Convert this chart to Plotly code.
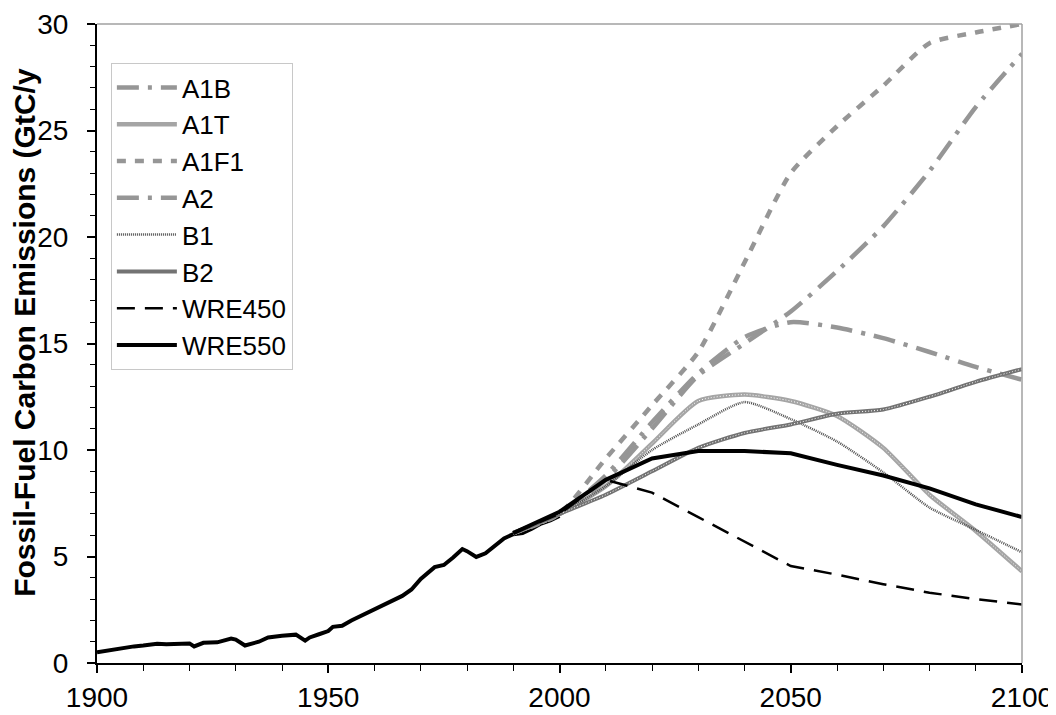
import plotly.graph_objects as go

# Historical emissions
hist_years = [1900,1902,1905,1908,1910,1913,1915,1918,1920,1921,1923,1926,1929,1930,1932,1935,1937,1940,1943,1945,1946,1948,1950,1951,1953,1955,1957,1960,1963,1966,1968,1970,1973,1975,1977,1979,1980,1982,1984,1986,1988,1990,1992,1994,1996,1998,2000]
hist_vals = [0.5,0.58,0.68,0.78,0.82,0.9,0.88,0.9,0.92,0.78,0.95,0.97,1.15,1.1,0.82,1.0,1.2,1.28,1.33,1.05,1.2,1.35,1.5,1.7,1.75,2.0,2.2,2.55,2.8,3.15,3.45,3.95,4.5,4.6,4.95,5.35,5.25,4.98,5.15,5.5,5.85,6.05,6.1,6.3,6.55,6.7,6.9]

# Scenario years and values
years = [1990,2000,2010,2020,2030,2040,2050,2060,2070,2080,2090,2100]
A1B = [6.1,7.0,8.8,11.3,13.6,15.3,16.0,15.75,15.25,14.6,13.9,13.3]
A1T = [6.1,7.0,8.3,10.3,12.3,12.6,12.3,11.6,10.1,7.9,6.2,4.3]
A1F1 = [6.1,7.0,9.6,12.1,14.6,18.8,23.0,25.2,27.1,29.1,29.6,30.0]
A2 = [6.1,7.0,8.6,11.0,13.5,15.0,16.5,18.4,20.5,23.1,26.1,28.6]
B1 = [6.1,7.0,8.3,10.0,11.2,12.25,11.45,10.4,8.95,7.3,6.25,5.2]
B2 = [6.1,7.0,7.9,9.0,10.1,10.8,11.2,11.7,11.9,12.5,13.2,13.8]
WRE450 = [6.1,7.0,8.6,8.0,6.85,5.7,4.55,4.15,3.7,3.3,3.0,2.75]
WRE550 = [6.1,7.1,8.6,9.6,9.95,9.95,9.85,9.3,8.8,8.2,7.45,6.85]

x_ticks = [1900,1950,2000,2050,2100]
y_ticks = [0,5,10,15,20,25,30]
y_title = "Fossil-Fuel Carbon Emissions (GtC/y"

GRAY = "rgb(150,150,150)"
FONT = "Liberation Sans, Arial, sans-serif"

fig = go.Figure()

fig.add_trace(go.Scatter(x=hist_years, y=hist_vals, mode="lines",
                         line=dict(color="black", width=4), showlegend=False))

series = [
    ("A1B", A1B, dict(color=GRAY, width=4.5, dash="22px,9px,4px,9px"), "spline"),
    ("A1T", A1T, dict(color="rgb(165,165,165)", width=4.5), "spline"),
    ("A1F1", A1F1, dict(color=GRAY, width=4.5, dash="9px,9px"), "spline"),
    ("A2", A2, dict(color=GRAY, width=4.5, dash="22px,9px,4px,9px"), "spline"),
    ("B1", B1, dict(color="rgb(80,80,80)", width=2.5, dash="1px,1px"), "spline"),
    ("B2", B2, dict(color="rgb(115,115,115)", width=4), "spline"),
    ("WRE450", WRE450, dict(color="black", width=2.5, dash="18px,10px"), "linear"),
    ("WRE550", WRE550, dict(color="black", width=4), "linear"),
]

for name, vals, line, shape in series:
    if shape == "spline":
        line = dict(line, shape="spline", smoothing=0.6)
    fig.add_trace(go.Scatter(x=years, y=vals, mode="lines", name=name, line=line))
    if name in ("A1T", "B2"):
        fig.add_trace(go.Scatter(x=years, y=vals, mode="lines", showlegend=False,
                                 line=dict(color="white", width=1, dash="1px,2px",
                                           shape="spline", smoothing=0.6),
                                 hoverinfo="skip"))

# page body has an 8px default margin; figure sized/positioned to compensate
fig.update_layout(
    width=1048, height=707,
    margin=dict(l=89, r=34, t=16, b=52),
    paper_bgcolor="white", plot_bgcolor="white",
    font=dict(family=FONT, color="black", size=28),
    legend=dict(x=0.015, y=0.939, xanchor="left", yanchor="top",
                bgcolor="white", bordercolor="rgb(200,200,200)", borderwidth=1,
                font=dict(size=26), itemwidth=60),
    xaxis=dict(range=[1900, 2100], tickvals=x_ticks, ticks="outside", ticklen=8,
               tickwidth=1.5, tickcolor="black", showline=True, linecolor="black",
               linewidth=2, showgrid=False, zeroline=False, automargin=False,
               tickfont=dict(size=28),
               minor=dict(dtick=10, ticks="outside", ticklen=6, tickcolor="black",
                          tickwidth=1.2, showgrid=False)),
    yaxis=dict(range=[0, 30], tickvals=y_ticks, ticks="outside", ticklen=8,
               tickwidth=1.5, tickcolor="black", showline=True, linecolor="black",
               linewidth=2, showgrid=False, zeroline=False, automargin=False,
               tickfont=dict(size=28), ticklabelstandoff=13,
               minor=dict(dtick=1, ticks="outside", ticklen=5, tickcolor="black",
                          tickwidth=1.2, showgrid=False)),
    annotations=[
        dict(text="<b>" + y_title + "</b>", xref="paper", yref="paper",
             x=-0.078, y=0.518, xanchor="center", yanchor="middle",
             textangle=-90, showarrow=False, font=dict(size=30)),
    ],
    shapes=[
        dict(type="line", xref="paper", yref="paper", x0=0, x1=1, y0=1, y1=1,
             line=dict(color="rgb(160,160,160)", width=1.5)),
        dict(type="line", xref="paper", yref="paper", x0=1, x1=1, y0=0, y1=1,
             line=dict(color="rgb(160,160,160)", width=1.5)),
    ],
)

fig.write_html("out.html")
